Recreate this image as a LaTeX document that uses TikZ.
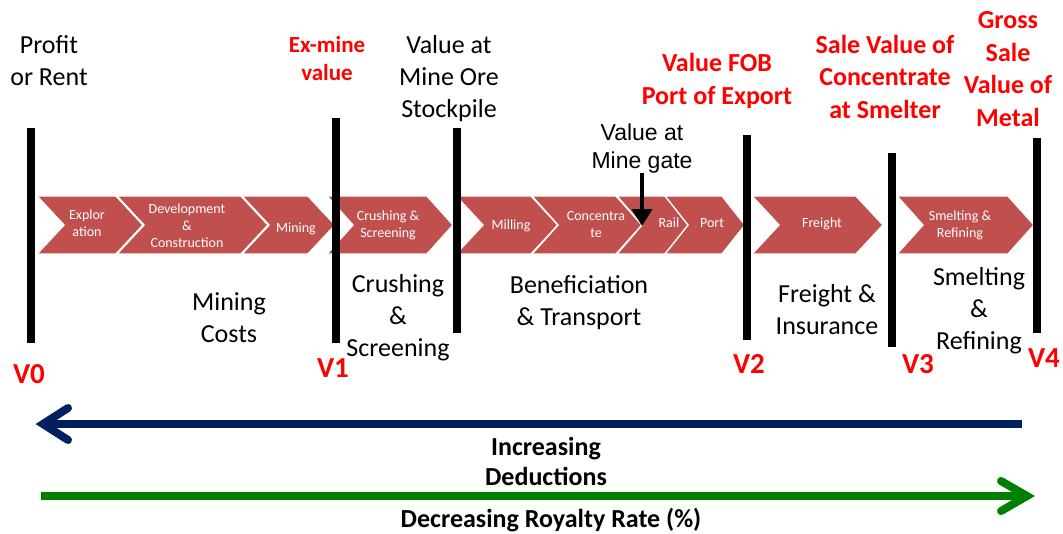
\documentclass[tikz,border=0pt]{standalone}
\usepackage{fontspec}
\setmainfont{Carlito}
\newfontfamily\arialfont{Liberation Sans}
\usetikzlibrary{arrows.meta}

\definecolor{chevred}{HTML}{C0504D}
\definecolor{navyarrow}{HTML}{002060}
\definecolor{greenarrow}{HTML}{008000}

% one process step: left x, tip x, point depth
\newcommand\stagechevron[3]{%
  \filldraw[stagefill] (#1,196) -- (#2-#3,196) -- (#2,225) -- (#2-#3,254)
    -- (#1,254) -- (#1+#3,225) -- cycle;}

\begin{document}
\begin{tikzpicture}[x=1pt, y=-1pt,
  stagefill/.style={fill=chevred, draw=white, line width=1.4pt},
  steptext/.style={anchor=base, align=center, inner sep=0pt, text=white,
    font=\fontsize{14}{17}\selectfont},
  lbl/.style={anchor=base, align=center, inner sep=0pt,
    font=\fontsize{26}{32}\selectfont},
  redlbl/.style={anchor=base, align=center, inner sep=0pt, text=red,
    font=\bfseries\fontsize{26}{32.5}\selectfont},
  smallred/.style={anchor=base, align=center, inner sep=0pt, text=red,
    font=\bfseries\fontsize{23}{28}\selectfont},
  vlbl/.style={anchor=base, inner sep=0pt, text=red,
    font=\bfseries\fontsize{29}{34}\selectfont},
  boldlbl/.style={anchor=base, align=center, inner sep=0pt,
    font=\bfseries\fontsize{26}{30}\selectfont},
  divider/.style={line width=8pt},
]
\useasboundingbox (0,0) rectangle (1063,533);

% ---- process chain ----
\stagechevron{37}{143}{27}
\stagechevron{117}{268}{27}
\stagechevron{242}{335}{27}
\stagechevron{327}{453}{26}
\stagechevron{456}{558}{27}
\stagechevron{532}{642}{26}
\stagechevron{617}{690}{25}
\stagechevron{665}{745}{23}
\stagechevron{752}{883}{27}
\stagechevron{897}{1034}{26}

% (base anchor = baseline of the last line)
\node[steptext] (explo) at (87,236) {Explor\\ation};
\node[steptext] (devel) at (187,247) {Development\\\&\\Construction};
\node[steptext] (minst) at (296,232) {Mining};
\node[steptext] (crush) at (388,237) {Crushing \&\\Screening};
\node[steptext] (mill)  at (511,229) {Milling};
\node[steptext] (conc)  at (596,237) {Concentra\\te};
\node[steptext] (rail)  at (669,227) {Rail};
\node[steptext] (port)  at (712,227) {Port};
\node[steptext] (frst)  at (822,227) {Freight};
\node[steptext] (smst)  at (960,237) {Smelting \&\\Refining};

% ---- value points ----
\coordinate (b0t) at (31,128);   \coordinate (b0b) at (31,343);
\coordinate (b1t) at (336,118);  \coordinate (b1b) at (336,343);
\coordinate (bst) at (457,128);  \coordinate (bsb) at (457,333);
\coordinate (b2t) at (747,135);  \coordinate (b2b) at (747,340);
\coordinate (b3t) at (892,153);  \coordinate (b3b) at (892,347);
\coordinate (b4t) at (1037,138); \coordinate (b4b) at (1037,333);
\draw[divider] (b0t) -- (b0b);
\draw[divider] (b1t) -- (b1b);
\draw[divider] (bst) -- (bsb);
\draw[divider] (b2t) -- (b2b);
\draw[divider] (b3t) -- (b3b);
\draw[divider] (b4t) -- (b4b);

\node[vlbl] (v0) at (29,383) {V0};
\node[vlbl] (v1) at (333,377) {V1};
\node[vlbl] (v2) at (749,373) {V2};
\node[vlbl] (v3) at (918,373) {V3};
\node[vlbl] (v4) at (1044,367) {V4};

% ---- labels above ----
\node[lbl] (profit) at (49,85) {Profit\\or Rent};
\node[smallred] (exmine) at (327,80) {Ex-mine\\value};
\node[lbl] (stock) at (449,117) {Value at\\Mine Ore\\Stockpile};
\node[redlbl] (fob) at (717,104) {Value FOB\\Port of Export};
\node[redlbl] (smelter) at (885,118) {Sale Value of\\Concentrate\\at Smelter};
\node[redlbl] (metal) at (1008,126) {Gross\\Sale\\Value of\\Metal};
\node[anchor=base, align=center, inner sep=0pt,
  font=\arialfont\fontsize{23}{28}\selectfont] (gate) at (642,168)
  {Value at\\Mine gate};
\coordinate (gatetip) at (642,226);
\draw[line width=4.5pt, -{Triangle[width=20pt,length=17pt]}] (gate.south) -- (gatetip);

% ---- cost groups ----
\node[lbl] (mcost) at (229,342) {Mining\\Costs};
\node[lbl] (cscost) at (398,356) {Crushing\\\&\\Screening};
\node[lbl] (bencost) at (579,325) {Beneficiation\\\& Transport};
\node[lbl] (frcost) at (827,334) {Freight \&\\Insurance};
\node[lbl] (smcost) at (979,349) {Smelting\\\&\\Refining};

% ---- trend arrows ----
\coordinate (navyR) at (1022,424);
\coordinate (navyL) at (43,424);
\draw[navyarrow, line width=8pt] (navyR) -- (navyL);
\draw[navyarrow, line width=8pt, line cap=round, line join=miter]
  (navyL) ++(25,-16) -- (navyL) -- ++(25,16);

\coordinate (greenL) at (41,496);
\coordinate (greenR) at (1027,496);
\draw[greenarrow, line width=8pt] (greenL) -- (greenR);
\draw[greenarrow, line width=8pt, line cap=round, line join=miter]
  (greenR) ++(-26,-15) -- (greenR) -- ++(-26,15);

\node[boldlbl] (deduct) at (546,485) {Increasing\\Deductions};
\node[boldlbl] (royalty) at (551,527) {Decreasing Royalty Rate (\%)};
\end{tikzpicture}
\end{document}
